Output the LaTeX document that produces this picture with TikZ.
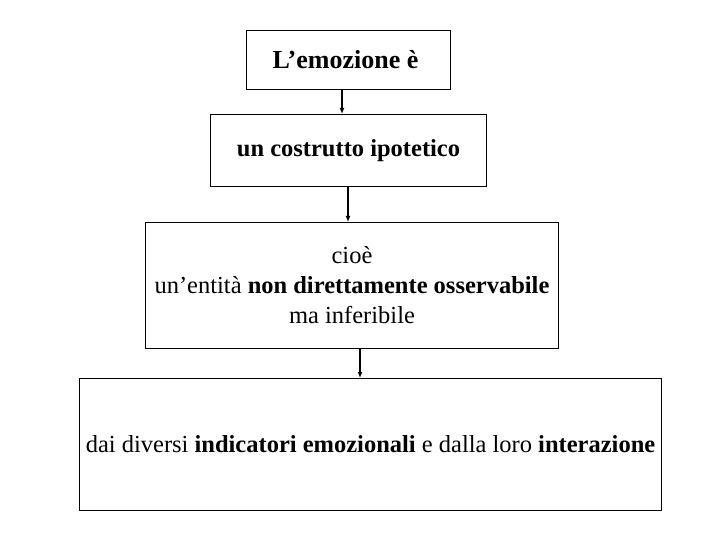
\documentclass[tikz,border=0pt]{standalone}
\usepackage{fontspec}
\setmainfont{Liberation Serif}
\usetikzlibrary{arrows.meta}
\begin{document}
\begin{tikzpicture}[x=1pt,y=-1pt,
  box/.style={draw,line width=1pt,anchor=north west,inner sep=0pt,align=center},
  arr/.style={-{Latex[length=6pt,width=5pt]},line width=1.3pt}]
\useasboundingbox (0,0) rectangle (720,540);
\node[box,minimum width=204pt,minimum height=59pt,font=\fontsize{26}{30}\selectfont\bfseries] (a) at (246,30) {L’emozione è\hspace{6pt}};
\node[box,minimum width=276pt,minimum height=72pt,font=\fontsize{24.5}{30}\selectfont\bfseries] (b) at (210,114) {un costrutto ipotetico};
\node[box,minimum width=413pt,minimum height=126pt,font=\fontsize{24.5}{30}\selectfont] (c) at (145,222) {cioè\\un’entità \textbf{non direttamente osservabile}\\ma inferibile};
\node[box,minimum width=582pt,minimum height=132pt,font=\fontsize{24.5}{30}\selectfont] (d) at (79,378) {dai diversi \textbf{indicatori emozionali} e dalla loro \textbf{interazione}};
\draw[arr] (342,89) -- (342,114);
\draw[arr] (348,186) -- (348,222);
\draw[arr] (360,348) -- (360,378);
\end{tikzpicture}
\end{document}
